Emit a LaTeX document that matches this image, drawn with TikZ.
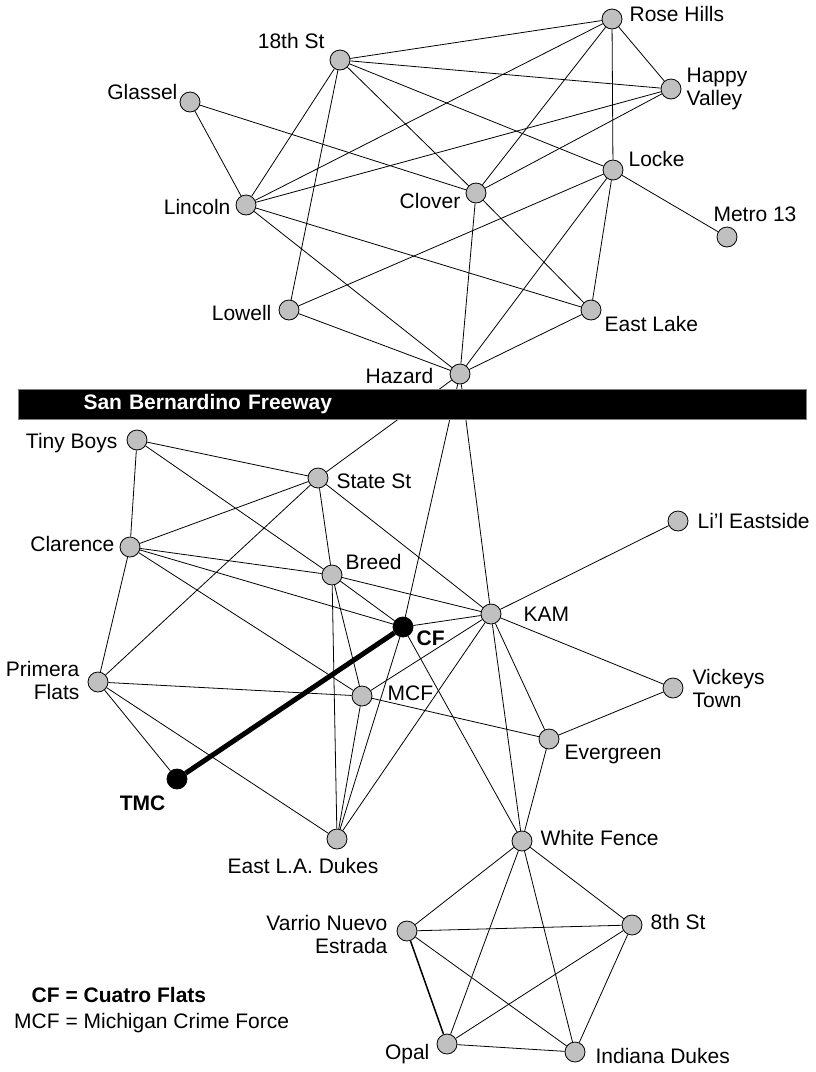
\documentclass[tikz,border=0pt]{standalone}
\usepackage{fontspec}
\setmainfont{Liberation Sans}
\newcommand{\gangfont}{\fontsize{21}{23}\selectfont}
\begin{document}
\begin{tikzpicture}[x=1pt, y=-1pt, font=\gangfont, label distance=4pt,
  every label/.append style={inner sep=1pt},
  gang/.style={circle, draw, fill=gangfill, minimum size=20pt, inner sep=0pt, line width=0.8pt},
  keygang/.style={gang, fill=black},
  link/.style={line width=0.8pt},
  strong/.style={line width=5pt},
  freeway/.style={fill=black, draw=fwyedge, line width=1pt, text=white, font=\gangfont\bfseries,
    minimum width=788pt, minimum height=30pt, inner xsep=65pt, text width=658pt, align=left}]
\definecolor{gangfill}{HTML}{C0C0C0}
\definecolor{fwyedge}{HTML}{808080}
\useasboundingbox (0,0) rectangle (815,1072);
\node[gang, label={[xshift=2pt, yshift=5pt]right:Rose Hills}] (rosehills) at (612,19) {};
\node[gang, label={[yshift=19pt]left:18th St}] (eighteenth) at (340,60) {};
\node[gang, label={[align=left]right:Happy\\Valley}] (happyvalley) at (671,89) {};
\node[gang, label={[xshift=3pt, yshift=10pt]left:Glassel}] (glassel) at (190,102) {};
\node[gang, label={[yshift=11pt]right:Locke}] (locke) at (613,170) {};
\node[gang, label={[yshift=-8pt]left:Clover}] (clover) at (476,193) {};
\node[gang, label={[yshift=-2pt]left:Lincoln}] (lincoln) at (246,205) {};
\node[gang, label={[xshift=28pt]above:Metro 13}] (metro) at (727,237) {};
\node[gang, label={[xshift=-2pt, yshift=-3pt]left:Lowell}] (lowell) at (289,310) {};
\node[gang, label={[xshift=-2pt, yshift=-14pt]right:East Lake}] (eastlake) at (591,310) {};
\node[gang, label={[xshift=-11pt, yshift=-2pt]left:Hazard}] (hazard) at (460,374) {};
\node[gang, label={[xshift=-4pt, yshift=-3pt]left:Tiny Boys}] (tinyboys) at (137,440) {};
\node[gang, label={[xshift=3pt, yshift=-3pt]right:State St}] (statest) at (318,478) {};
\node[gang, label={[xshift=4pt]right:Li’l Eastside}] (lileastside) at (678,521) {};
\node[gang, label={[yshift=3pt]left:Clarence}] (clarence) at (130,547) {};
\node[gang, label={[xshift=-2pt, yshift=13pt]right:Breed}] (breed) at (332,575) {};
\node[gang, label={[xshift=17pt]right:KAM}] (kam) at (491,614) {};
\node[keygang, label={[font=\gangfont\bfseries, xshift=-2pt, yshift=-11pt]right:CF}] (cf) at (403,627) {};
\node[gang, label={[align=right, xshift=-3pt, yshift=2pt]left:Primera\\Flats}] (primera) at (98,682) {};
\node[gang, label={[xshift=10pt, yshift=3pt]right:MCF}] (mcf) at (362,696) {};
\node[gang, label={[align=left, xshift=4pt]right:Vickeys\\Town}] (vickeys) at (673,688) {};
\node[gang, label={[yshift=-15pt]right:Evergreen}] (evergreen) at (549,739) {};
\node[keygang, label={[font=\gangfont\bfseries, xshift=4pt, yshift=-24pt]left:TMC}] (tmc) at (177,779) {};
\node[gang, label={[xshift=-34pt, yshift=-4pt]below:East L.A. Dukes}] (eladukes) at (337,839) {};
\node[gang, label={[xshift=3pt, yshift=3pt]right:White Fence}] (whitefence) at (522,841) {};
\node[gang, label={[align=right, xshift=-4pt, yshift=-3pt]left:Varrio Nuevo\\Estrada}] (varrio) at (407,931) {};
\node[gang, label={[xshift=3pt, yshift=3pt]right:8th St}] (eighthst) at (632,925) {};
\node[gang, label={[xshift=-2pt, yshift=-10pt]left:Opal}] (opal) at (447,1044) {};
\node[gang, label={[xshift=5pt, yshift=-4pt]right:Indiana Dukes}] (indiana) at (575,1052) {};
\draw[link] (rosehills) -- (eighteenth) (rosehills) -- (happyvalley) (rosehills) -- (lincoln) (rosehills) -- (clover) (rosehills) -- (locke);
\draw[link] (eighteenth) -- (happyvalley) (eighteenth) -- (locke) (eighteenth) -- (clover) (eighteenth) -- (lincoln) (eighteenth) -- (lowell);
\draw[link] (happyvalley) -- (lincoln) (happyvalley) -- (clover);
\draw[link] (glassel) -- (lincoln) (glassel) -- (clover);
\draw[link] (lincoln) -- (eastlake) (lincoln) -- (hazard);
\draw[link] (clover) -- (eastlake) (clover) -- (hazard);
\draw[link] (locke) -- (metro) (locke) -- (lowell) (locke) -- (hazard) (locke) -- (eastlake);
\draw[link] (lowell) -- (hazard) (eastlake) -- (hazard);
\draw[link] (hazard) -- (statest) (hazard) -- (cf) (hazard) -- (kam);
\draw[link] (tinyboys) -- (statest) (tinyboys) -- (clarence) (tinyboys) -- (breed);
\draw[link] (statest) -- (clarence) (statest) -- (primera) (statest) -- (breed) (statest) -- (kam);
\draw[link] (clarence) -- (breed) (clarence) -- (cf) (clarence) -- (mcf) (clarence) -- (primera);
\draw[link] (breed) -- (kam) (breed) -- (cf) (breed) -- (mcf) (breed) -- (eladukes);
\draw[link] (cf) -- (kam) (cf) -- (eladukes) (cf) -- (whitefence);
\draw[link] (kam) -- (lileastside) (kam) -- (mcf) (kam) -- (eladukes) (kam) -- (vickeys) (kam) -- (evergreen) (kam) -- (whitefence);
\draw[link] (mcf) -- (evergreen) (mcf) -- (eladukes) (mcf) -- (primera);
\draw[link] (primera) -- (tmc) (primera) -- (eladukes);
\draw[link] (evergreen) -- (vickeys) (evergreen) -- (whitefence);
\draw[link] (whitefence) -- (varrio) (whitefence) -- (eighthst) (whitefence) -- (opal) (whitefence) -- (indiana);
\draw[link] (varrio) -- (eighthst) (varrio) -- (indiana) (eighthst) -- (opal) (eighthst) -- (indiana) (opal) -- (indiana);
\draw[link, line width=1.5pt] (varrio) -- (opal);
\draw[strong] (tmc) -- (cf);
\node[freeway, anchor=west] (freeway) at (18,404) {San Bernardino Freeway};
\node[anchor=west, inner sep=0pt] (legend) at (14,1011) {\begin{tabular}{@{}r@{ }c@{ }l@{}}
\textbf{CF} & \textbf{=} & \textbf{Cuatro Flats}\\[3pt]
MCF & = & Michigan Crime Force
\end{tabular}};
\end{tikzpicture}
\end{document}
